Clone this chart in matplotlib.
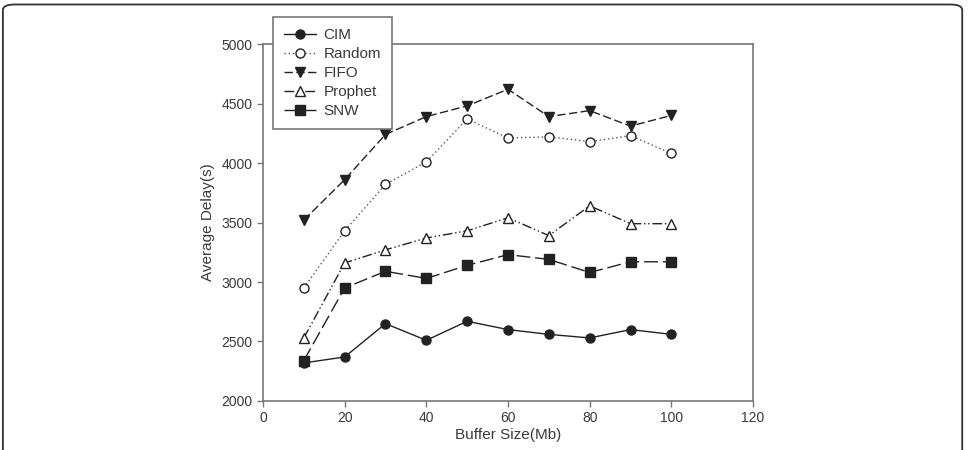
import matplotlib
matplotlib.use('Agg')
import matplotlib.pyplot as plt
from matplotlib.patches import FancyBboxPatch

plt.rcParams['font.family'] = ['Liberation Sans', 'DejaVu Sans']

buffer_size = [10, 20, 30, 40, 50, 60, 70, 80, 90, 100]
cim = [2320, 2370, 2650, 2510, 2670, 2600, 2560, 2530, 2600, 2560]
random_ = [2950, 3430, 3820, 4010, 4370, 4210, 4220, 4180, 4230, 4080]
fifo = [3520, 3860, 4240, 4390, 4480, 4620, 4390, 4440, 4310, 4400]
prophet = [2530, 3160, 3270, 3370, 3430, 3540, 3390, 3640, 3490, 3490]
snw = [2340, 2950, 3090, 3030, 3140, 3230, 3190, 3080, 3170, 3170]

x_ticks = [0, 20, 40, 60, 80, 100, 120]
y_ticks = [2000, 2500, 3000, 3500, 4000, 4500, 5000]

ink = '#222222'
frame = '#777777'
txt = '#3a3a3a'

fig = plt.figure(figsize=(9.69, 4.5), dpi=100)
ax = fig.add_axes([0.2714, 0.1089, 0.5057, 0.7933])

# rounded outer border of the figure
fig.patches.append(FancyBboxPatch((0.003, -0.05), 0.990, 1.04,
                                  boxstyle='round,pad=0,rounding_size=0.012',
                                  transform=fig.transFigure, fill=False,
                                  edgecolor='#333333', linewidth=1.3))

ax.plot(buffer_size, cim, color=ink, lw=1, ls='-', marker='o', ms=6.5,
        mfc=ink, mec=ink, label='CIM')
ax.plot(buffer_size, random_, color='#555555', lw=1, ls=(0, (1, 2)), marker='o', ms=6.5,
        mfc='white', mec=ink, label='Random')
ax.plot(buffer_size, fifo, color=ink, lw=1, ls=(0, (6, 2.5)), marker='v', ms=7,
        mfc=ink, mec=ink, label='FIFO')
ax.plot(buffer_size, prophet, color=ink, lw=1, ls=(0, (7, 2, 1, 2, 1, 2)), marker='^', ms=7,
        mfc='white', mec=ink, label='Prophet')
ax.plot(buffer_size, snw, color=ink, lw=1, ls=(0, (10, 3.5)), marker='s', ms=6.5,
        mfc=ink, mec=ink, label='SNW')

ax.set_xlim(0, 120)
ax.set_ylim(2000, 5000)
ax.set_xticks(x_ticks)
ax.set_yticks(y_ticks)
ax.tick_params(direction='out', length=4, width=1, color=frame, labelsize=10,
               labelcolor=txt, top=False, right=False)
for s in ax.spines.values():
    s.set_color(frame)
    s.set_linewidth(1.2)

ax.set_xlabel('Buffer Size(Mb)', fontsize=11, color=txt, labelpad=2)
ax.set_ylabel('Average Delay(s)', fontsize=11, color=txt, labelpad=5)

leg = ax.legend(loc='upper left', bbox_to_anchor=(0.0204, 1.0756), fancybox=False,
                framealpha=1, edgecolor=frame, fontsize=11, handlelength=2.1,
                borderpad=0.72, labelspacing=0.33, handletextpad=0.5, borderaxespad=0)
leg.get_frame().set_linewidth(1.2)
for t in leg.get_texts():
    t.set_color(txt)

fig.savefig('out.png', dpi=100)
